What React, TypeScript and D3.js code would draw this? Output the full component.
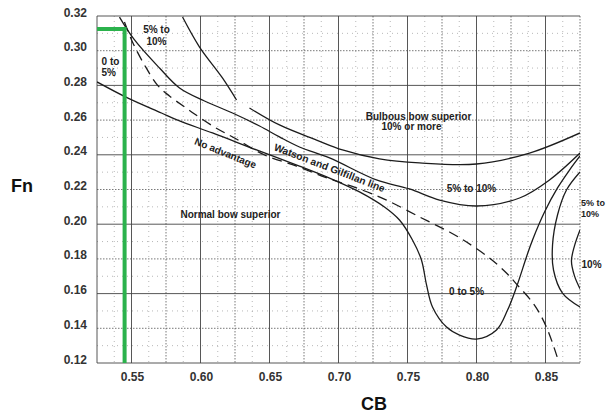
import React from "react";
import * as d3 from "d3";

type P = [number, number];

const xTicks = [0.55, 0.6, 0.65, 0.7, 0.75, 0.8, 0.85];
const xTickLabels = ["0.55", "0.60", "0.65", "0.70", "0.75", "0.80", "0.85"];
const yTicks = [0.12, 0.14, 0.16, 0.18, 0.2, 0.22, 0.24, 0.26, 0.28, 0.3, 0.32];
const yTickLabels = ["0.12", "0.14", "0.16", "0.18", "0.20", "0.22", "0.24", "0.26", "0.28", "0.30", "0.32"];

// Boundary between "5% to 10%" and "10% or more" (two pieces, gap in original)
const upperCurveA: P[] = [
  [0.587, 0.3194], [0.5993, 0.3021], [0.6159, 0.2843], [0.6261, 0.2716],
];
const upperCurveB: P[] = [
  [0.6355, 0.267], [0.6572, 0.2572], [0.6841, 0.2485], [0.7029, 0.2428],
  [0.7297, 0.2376], [0.7587, 0.2353], [0.8, 0.2347], [0.8384, 0.241], [0.875, 0.2526],
];
// Lower boundary of "5% to 10%"
const midCurve: P[] = [
  [0.5413, 0.3194], [0.5522, 0.3062], [0.5703, 0.29], [0.5848, 0.2785],
  [0.6029, 0.271], [0.6232, 0.2641], [0.6428, 0.2566], [0.6572, 0.2503],
  [0.6717, 0.2445], [0.6935, 0.2382], [0.7275, 0.2255], [0.7514, 0.2203],
  [0.7732, 0.2139], [0.8, 0.2105], [0.8312, 0.2151], [0.8529, 0.2255], [0.875, 0.241],
];
// Watson and Gilfillan line (dashed)
const watsonLine: P[] = [
  [0.5449, 0.3165], [0.5507, 0.305], [0.5594, 0.2918], [0.5688, 0.2802],
  [0.5775, 0.2739], [0.5884, 0.2676], [0.5957, 0.2635], [0.6101, 0.256],
  [0.6246, 0.2497], [0.6464, 0.2399], [0.6696, 0.2335], [0.6935, 0.2261],
  [0.713, 0.2209], [0.7348, 0.2139], [0.7587, 0.2042], [0.7804, 0.1955],
  [0.7928, 0.1897], [0.8094, 0.1805], [0.8217, 0.1719], [0.829, 0.1655],
  [0.842, 0.1534], [0.8507, 0.1407], [0.8587, 0.1229],
];
// "No advantage" line continuing into the "0 to 5%" lobe
const noAdvantageLine: P[] = [
  [0.525, 0.282], [0.5471, 0.2728], [0.5717, 0.2641], [0.5848, 0.2595],
  [0.6087, 0.2526], [0.6406, 0.2428], [0.6717, 0.2335], [0.6935, 0.2266],
  [0.7152, 0.2186], [0.7333, 0.2099], [0.7442, 0.2024], [0.7536, 0.1909],
  [0.7601, 0.1794], [0.7638, 0.165], [0.7681, 0.1523], [0.7783, 0.1407],
  [0.7877, 0.1361], [0.8, 0.1338], [0.8145, 0.139], [0.8225, 0.1505],
  [0.829, 0.1638], [0.8362, 0.1811], [0.8406, 0.1909], [0.8493, 0.207],
  [0.8587, 0.2209], [0.8674, 0.2312], [0.875, 0.2393],
];
// Right-hand contours
const rightCurve1: P[] = [
  [0.875, 0.2301], [0.8652, 0.2197], [0.8587, 0.2053], [0.8551, 0.188],
  [0.8558, 0.1736], [0.8623, 0.1603], [0.875, 0.1523],
];
const rightCurve2: P[] = [
  [0.875, 0.1967], [0.871, 0.1875], [0.8688, 0.1788], [0.871, 0.1702], [0.875, 0.1628],
];
// Green marker (CB = 0.545, Fn = 0.3125)
const markerLine: P[] = [[0.545, 0.12], [0.545, 0.3125], [0.525, 0.3125]];

const regionLabels: { lines: string[]; cb: number; fn: number; anchor: string; size: number }[] = [
  { lines: ["Bulbous bow superior"], cb: 0.758, fn: 0.2601, anchor: "middle", size: 10 },
  { lines: ["10% or more"], cb: 0.7529, fn: 0.2543, anchor: "middle", size: 10 },
  { lines: ["5% to 10%"], cb: 0.7964, fn: 0.2186, anchor: "middle", size: 10 },
  { lines: ["Normal bow superior"], cb: 0.6217, fn: 0.2036, anchor: "middle", size: 10 },
  { lines: ["0 to", "5%"], cb: 0.5283, fn: 0.2918, anchor: "start", size: 10 },
  { lines: ["5% to", "10%"], cb: 0.5681, fn: 0.3102, anchor: "middle", size: 10 },
  { lines: ["0 to 5%"], cb: 0.7928, fn: 0.1592, anchor: "middle", size: 10 },
  { lines: ["5% to", "10%"], cb: 0.8758, fn: 0.2105, anchor: "start", size: 9 },
  { lines: ["10%"], cb: 0.8761, fn: 0.1748, anchor: "start", size: 10 },
];
const lineLabels = [
  { text: "No advantage", cb: 0.6181, fn: 0.241, angle: 22, size: 10 },
  { text: "Watson and Gilfillan line", cb: 0.6935, fn: 0.2325, angle: 21, size: 10.2 },
];

const W = 606;
const H = 414;
const L = 97, R = 580, T = 16, B = 363;

export default function App() {
  const x = d3.scaleLinear().domain([0.525, 0.875]).range([L, R]);
  const y = d3.scaleLinear().domain([0.12, 0.32]).range([B, T]);
  const line = d3
    .line<P>()
    .x((d) => x(d[0]))
    .y((d) => y(d[1]))
    .curve(d3.curveCatmullRom.alpha(0.5));
  const straight = d3.line<P>().x((d) => x(d[0])).y((d) => y(d[1]));

  const font = "'Liberation Sans', Arial, sans-serif";
  const vMajor = [0.525, ...xTicks];
  const vDotted = d3.range(0, 7).map((i) => 0.575 + 0.05 * i);
  const vFaint = d3.range(0, 14).map((i) => 0.5375 + 0.025 * i);
  const hMajor = [0.12, 0.16, 0.2, 0.24, 0.28, 0.32];
  const hDotted = [0.14, 0.18, 0.22, 0.26, 0.3];
  const hFaint = d3.range(0, 10).map((i) => 0.13 + 0.02 * i);

  return (
    <svg width={W} height={H} style={{ position: "absolute", left: 0, top: 0, background: "#fff" }}>
      <defs>
        <clipPath id="plot">
          <rect x={L} y={T} width={R - L} height={B - T} />
        </clipPath>
      </defs>
      {/* faint grid */}
      <g stroke="#9a9a9a" strokeWidth={0.7} strokeDasharray="1 4">
        {vFaint.map((v, i) => (
          <line key={"vf" + i} x1={x(v)} x2={x(v)} y1={T} y2={B} />
        ))}
        {hFaint.map((v, i) => (
          <line key={"hf" + i} x1={L} x2={R} y1={y(v)} y2={y(v)} />
        ))}
      </g>
      {/* dotted grid */}
      <g stroke="#555" strokeWidth={0.8} strokeDasharray="1.5 1.5">
        {vDotted.map((v, i) => (
          <line key={"vd" + i} x1={x(v)} x2={x(v)} y1={T} y2={B} />
        ))}
        {hDotted.map((v, i) => (
          <line key={"hd" + i} x1={L} x2={R} y1={y(v)} y2={y(v)} />
        ))}
      </g>
      {/* major grid */}
      <g stroke="#444" strokeWidth={0.9}>
        {vMajor.map((v, i) => (
          <line key={"vm" + i} x1={x(v)} x2={x(v)} y1={T} y2={B} />
        ))}
        {hMajor.map((v, i) => (
          <line key={"hm" + i} x1={L} x2={R} y1={y(v)} y2={y(v)} />
        ))}
      </g>

      <g clipPath="url(#plot)" fill="none" stroke="#1c1c1c" strokeWidth={1.3}>
        <path d={line(upperCurveA) || ""} />
        <path d={line(upperCurveB) || ""} />
        <path d={line(midCurve) || ""} />
        <path d={line(noAdvantageLine) || ""} />
        <path d={line(rightCurve1) || ""} />
        <path d={line(rightCurve2) || ""} />
        <path d={line(watsonLine) || ""} strokeDasharray="10 6" />
      </g>

      <path d={straight(markerLine) || ""} fill="none" stroke="#2bb24c" strokeWidth={4} />

      {/* region labels */}
      <g fontFamily={font} fontWeight="bold" fill="#222">
        {regionLabels.map((lb, i) => (
          <text key={"rl" + i} x={x(lb.cb)} y={y(lb.fn)} textAnchor={lb.anchor} fontSize={lb.size}>
            {lb.lines.map((t, j) => (
              <tspan key={j} x={x(lb.cb)} dy={j === 0 ? 0 : 11.5}>
                {t}
              </tspan>
            ))}
          </text>
        ))}
        {lineLabels.map((lb, i) => (
          <text
            key={"ll" + i}
            x={0}
            y={0}
            textAnchor="middle"
            dominantBaseline="central"
            fontSize={lb.size}
            transform={`translate(${x(lb.cb)},${y(lb.fn)}) rotate(${lb.angle})`}
          >
            {lb.text}
          </text>
        ))}
      </g>

      {/* axis tick labels */}
      <g fontFamily={font} fontWeight="bold" fontSize={12} fill="#333">
        {yTicks.map((v, i) => (
          <text key={"yt" + i} x={87} y={y(v) + 0.5} textAnchor="end">
            {yTickLabels[i]}
          </text>
        ))}
        {xTicks.map((v, i) => (
          <text key={"xt" + i} x={x(v) + 1} y={381} textAnchor="middle">
            {xTickLabels[i]}
          </text>
        ))}
      </g>
      <g fontFamily={font} fontWeight="bold" fontSize={18} fill="#111">
        <text x={22} y={191.5} textAnchor="middle">Fn</text>
        <text x={374} y={410} textAnchor="middle">CB</text>
      </g>
    </svg>
  );
}
